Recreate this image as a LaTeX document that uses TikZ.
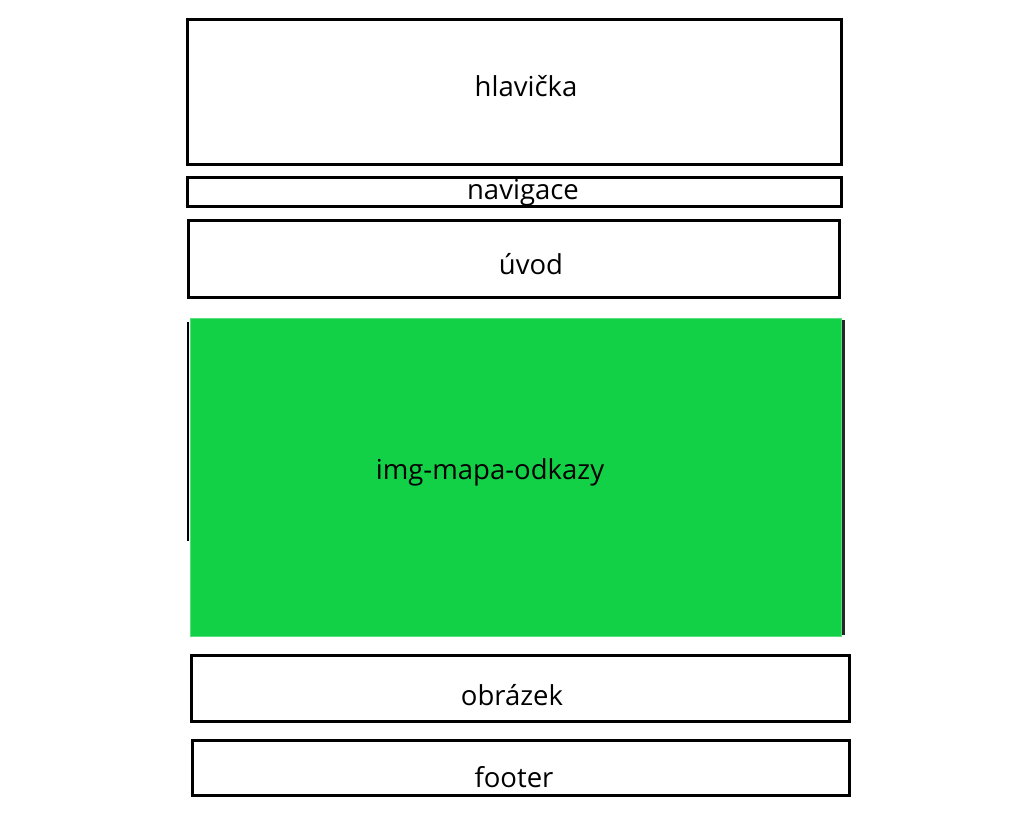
\documentclass[tikz,border=0pt]{standalone}
\usepackage{fontspec}
\setmainfont{Open Sans}
\definecolor{mapgreen}{RGB}{18,209,71}
\begin{document}
\begin{tikzpicture}[x=1pt,y=-1pt,
  box/.style={draw=black,line width=3pt,minimum width=#1,inner sep=0pt},
  lbl/.style={font=\fontsize{27.5}{32}\selectfont,inner sep=0pt,anchor=center}]
\useasboundingbox[fill=white] (0,0) rectangle (1029,816);
% boxes
\node[box=654pt,minimum height=144pt] (hbox) at (514,92) {};
\node[box=654pt,minimum height=29pt] (nbox) at (514,191.5) {};
\node[box=651pt,minimum height=77pt] (ubox) at (513.5,258.5) {};
\coordinate (lt) at (188,322);
\coordinate (lb) at (188,541);
\coordinate (rt) at (843.5,320);
\coordinate (rb) at (843.5,635);
\draw[line width=2pt] (lt) -- (lb);
\draw[line width=2.5pt,black!85] (rt) -- (rb);
\node[fill=mapgreen,draw=mapgreen!70!white,line width=0.8pt,minimum width=651pt,minimum height=318pt,inner sep=0pt] (gbox) at (515.5,477) {};
\node[box=658pt,minimum height=66pt] (obox) at (520,688) {};
\node[box=657pt,minimum height=55pt] (fbox) at (520.5,767.5) {};
% labels
\node[lbl] (ht) at (526,86) {hlavička};
\node[lbl] (nt) at (523,193) {navigace};
\node[lbl] (ut) at (531,264) {úvod};
\node[lbl] (gt) at (490,472) {img-mapa-odkazy};
\node[lbl] (ot) at (512,695) {obrázek};
\node[lbl] (ft) at (514,777) {footer};
\end{tikzpicture}
\end{document}
